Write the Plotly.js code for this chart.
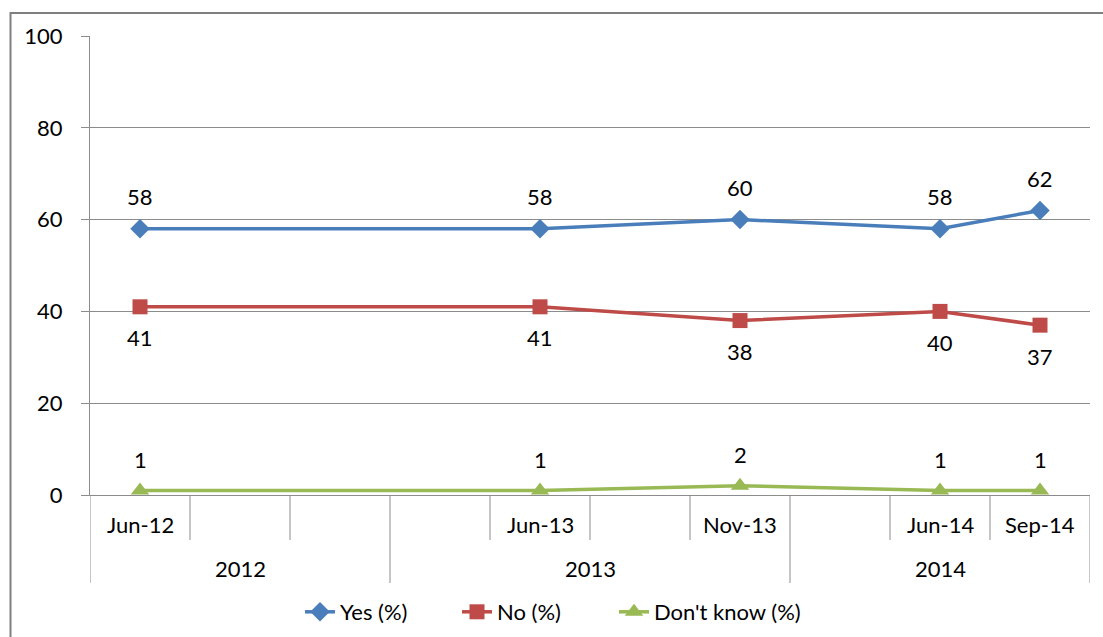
<!DOCTYPE html>
<html>
<head>
<meta charset="utf-8">
<script src="https://cdn.plot.ly/plotly-3.0.1.min.js"></script>
<style>html,body{margin:0;padding:0;background:#fff;}#chart{width:1103px;height:637px;}</style>
</head>
<body>
<div id="chart"></div>
<script>
// Category slots along the x axis (blank slots have no survey)
const slots = ['Jun-12', '', '', '', 'Jun-13', '', 'Nov-13', '', 'Jun-14', 'Sep-14'];
const years = ['2012', '2013', '2014'];
const yearStart = [0, 3, 7];
const yearEnd = [2, 6, 9];
const yesVals = [58, null, null, null, 58, null, 60, null, 58, 62];
const noVals = [41, null, null, null, 41, null, 38, null, 40, 37];
const dkVals = [1, null, null, null, 1, null, 2, null, 1, 1];
const seriesNames = ['Yes (%)', 'No (%)', "Don't know (%)"];

const FONT = 'Lato, "Liberation Sans", sans-serif';
const FS = 22;
const xs = slots.map((_, i) => i);
const colors = ['#4a7ebb', '#be4b48', '#98b954'];
const symbols = ['diamond', 'square', 'triangle-up'];
const sizes = [15, 15, 16];
const allVals = [yesVals, noVals, dkVals];
const labelShift = [32, -31, 31];

const traces = allVals.map((vals, k) => ({
  type: 'scatter', mode: 'lines+markers', name: seriesNames[k],
  x: xs, y: vals, connectgaps: true,
  line: {color: colors[k], width: 3.5},
  marker: {symbol: symbols[k], size: sizes[k], color: colors[k]},
  hoverinfo: 'skip'
}));
// empty spacer entry so the last legend label is not clipped by the fixed entry width
traces.push({type: 'scatter', mode: 'none', name: ' ', x: [null], y: [null], showlegend: true, hoverinfo: 'skip'});

const annotations = [];
allVals.forEach((vals, k) => {
  vals.forEach((v, i) => {
    if (v === null) return;
    annotations.push({x: i, y: v, xref: 'x', yref: 'y', text: String(v), showarrow: false,
      yshift: labelShift[k], font: {family: FONT, size: FS, color: '#000'}});
  });
});
slots.forEach((s, i) => {
  if (!s) return;
  annotations.push({x: i, y: -29 / 459, xref: 'x', yref: 'paper', text: s, showarrow: false,
    yanchor: 'middle', font: {family: FONT, size: FS, color: '#000'}});
});
years.forEach((yr, g) => {
  annotations.push({x: (yearStart[g] + yearEnd[g]) / 2, y: -73 / 459, xref: 'x', yref: 'paper', text: yr,
    showarrow: false, yanchor: 'middle', font: {family: FONT, size: FS, color: '#000'}});
});

const shapes = [];
const groupEdges = new Set();
yearStart.forEach(s => groupEdges.add(s));
yearEnd.forEach(e => groupEdges.add(e + 1));
for (let b = 0; b <= slots.length; b++) {
  const longLine = groupEdges.has(b);
  shapes.push({type: 'line', xref: 'x', yref: 'paper', x0: b - 0.5, x1: b - 0.5, y0: 0,
    y1: longLine ? -88 / 459 : -45 / 459, line: {color: '#8c8c8c', width: 1}});
}
// outer chart frame
shapes.push({type: 'rect', xref: 'paper', yref: 'paper', x0: -0.0795, x1: 1.03, y0: -0.33, y1: (495 - 13) / 459,
  line: {color: '#7f7f7f', width: 2}, fillcolor: 'rgba(0,0,0,0)'});

const layout = {
  width: 1103, height: 637,
  margin: {l: 90, r: 13, t: 36, b: 142, autoexpand: false},
  paper_bgcolor: '#fff', plot_bgcolor: '#fff',
  showlegend: true,
  legend: {orientation: 'h', xref: 'container', yref: 'container', x: 300 / 1103, xanchor: 'left',
    y: 1 - 612 / 637, yanchor: 'middle', entrywidth: 112, entrywidthmode: 'pixels',
    font: {family: FONT, size: FS, color: '#000'}, tracegroupgap: 0},
  xaxis: {range: [-0.5, slots.length - 0.5], showgrid: false, zeroline: false, showticklabels: false,
    ticks: '', showline: true, linecolor: '#8c8c8c', linewidth: 1, fixedrange: true},
  yaxis: {range: [0, 100], dtick: 20, tick0: 0, showgrid: true, gridcolor: '#8c8c8c', gridwidth: 1,
    zeroline: false, showline: true, linecolor: '#8c8c8c', linewidth: 1,
    ticks: 'outside', ticklen: 8, tickcolor: '#8c8c8c', ticklabelstandoff: 14,
    tickfont: {family: FONT, size: FS, color: '#000'}, fixedrange: true},
  annotations: annotations,
  shapes: shapes
};

Plotly.newPlot('chart', traces, layout, {displayModeBar: false, staticPlot: true});
</script>
</body>
</html>
